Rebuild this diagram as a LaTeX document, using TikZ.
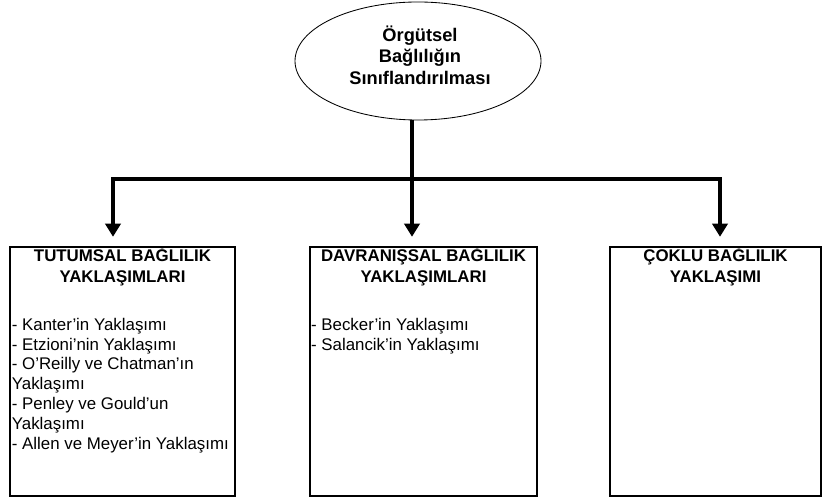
\documentclass[tikz,border=0pt]{standalone}
\usepackage{fontspec}
\setmainfont{Liberation Sans}
\usetikzlibrary{arrows.meta, positioning, shapes.geometric}

\begin{document}
\begin{tikzpicture}[
  every node/.style={font=\fontsize{12pt}{14.1pt}\selectfont},
  box/.style={draw, line width=1.7pt, minimum width=#1, minimum height=6.225cm, inner sep=0pt},
  head/.style={font=\fontsize{12pt}{14.9pt}\selectfont\bfseries, align=center, inner sep=0pt},
  items/.style={align=left, inner sep=0pt},
  arr/.style={line width=2.8pt, -{Triangle[length=3.3mm, width=3.8mm]}, shorten >=0.225cm}
]
  \useasboundingbox (0,0) rectangle (20.575,12.525);

  \node[draw, ellipse, line width=0.6pt, minimum width=6.15cm, minimum height=2.95cm] (org) at (10.45,11.0) {};
  \node[font=\fontsize{13pt}{15.2pt}\selectfont\bfseries, align=center, inner sep=0pt] (orgT) at (10.5,11.15) {Örgütsel\\Bağlılığın\\Sınıflandırılması};

  \node[box=5.625cm] (tutum) at (3.0625,3.2375) {};
  \node[box=5.675cm] (davr) at (10.5875,3.2375) {};
  \node[box=5.275cm] (coklu) at (17.8875,3.2375) {};

  \node[head, below=0.02cm of tutum.north] (tutumH) {TUTUMSAL BAĞLILIK\\YAKLAŞIMLARI};
  \node[head, below=0.02cm of davr.north] (davrH) {DAVRANIŞSAL BAĞLILIK\\YAKLAŞIMLARI};
  \node[head, below=0.02cm of coklu.north] (cokluH) {ÇOKLU BAĞLILIK\\YAKLAŞIMI};

  \node[items, below right=1.8cm and 0.07cm of tutum.north west] (tutumL) {%
    - Kanter'in Yaklaşımı\\
    - Etzioni'nin Yaklaşımı\\
    - O'Reilly ve Chatman'ın\\
    Yaklaşımı\\
    - Penley ve Gould'un\\
    Yaklaşımı\\
    - Allen ve Meyer'in Yaklaşımı};
  \node[items, below right=1.8cm and 0.05cm of davr.north west] (davrL) {%
    - Becker'in Yaklaşımı\\
    - Salancik'in Yaklaşımı};

  % branching connectors
  \coordinate (jL) at (2.825,8.05);
  \coordinate (jM) at (10.3,8.05);
  \coordinate (jR) at (18.0,8.05);
  \draw[arr] (org.south -| jM) -- (jM |- davr.north);
  \draw[arr] (jM) -| (jL |- tutum.north);
  \draw[arr] (jM) -| (jR |- coklu.north);
\end{tikzpicture}
\end{document}
